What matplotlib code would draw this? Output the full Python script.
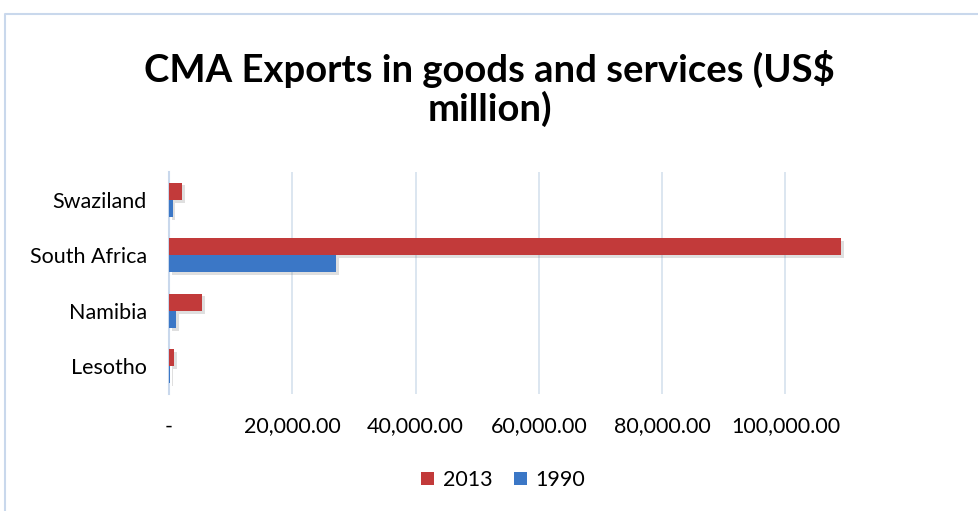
import matplotlib
matplotlib.use("Agg")
import matplotlib.pyplot as plt
import matplotlib.patheffects as pe
from matplotlib.patches import Patch
from matplotlib.lines import Line2D
from matplotlib.ticker import FuncFormatter

countries = ["Lesotho", "Namibia", "South Africa", "Swaziland"]
exports_2013 = [850, 5350, 109100, 2100]
exports_1990 = [120, 1100, 27100, 600]
xticks = [0, 20000, 40000, 60000, 80000, 100000]

plt.rcParams['font.family'] = ['Lato', 'DejaVu Sans']

red = '#C23A3A'
blue = '#3B77C6'

fig = plt.figure(figsize=(9.79, 5.11), dpi=100)
ax = fig.add_axes([169/979, 1-394/511, (847-169)/979, (394-172)/511])

h = 0.31
ypos = list(range(len(countries)))
shadow = [pe.SimplePatchShadow(offset=(2, -2), shadow_rgbFace='gray', alpha=0.25), pe.Normal()]
b1 = ax.barh([y + h/2 for y in ypos], exports_2013, height=h, color=red, zorder=3)
b2 = ax.barh([y - h/2 for y in ypos], exports_1990, height=h, color=blue, zorder=3)
for b in list(b1) + list(b2):
    b.set_path_effects(shadow)

ax.set_ylim(-0.5, 3.5)
ax.set_xlim(0, 110000)
ax.set_yticks(ypos)
ax.set_yticklabels(countries, fontsize=15.5)
ax.set_xticks(xticks)
ax.xaxis.set_major_formatter(FuncFormatter(lambda v, p: '-' if v == 0 else f"{v:,.2f}"))
ax.tick_params(axis='x', labelsize=15.5, length=0, pad=16)
ax.tick_params(axis='y', length=0, pad=16)
ax.grid(axis='x', color='#D5E1EE', linewidth=1.2, zorder=0)
for s in ['top', 'right', 'bottom']:
    ax.spines[s].set_visible(False)
ax.spines['left'].set_color('#C9D8EC')
ax.spines['left'].set_linewidth(1.5)

fig.text(0.5, 1-69/511, "CMA Exports in goods and services (US$", ha='center', va='center',
         fontsize=27.5, fontweight='bold')
fig.text(0.5, 1-109/511, "million)", ha='center', va='center', fontsize=27.5, fontweight='bold')

handles = [Patch(facecolor=red), Patch(facecolor=blue)]
fig.legend(handles, ["2013", "1990"], loc='center', bbox_to_anchor=(0.514, 1-480/511), ncol=2,
           frameon=False, fontsize=15.5, handlelength=0.6, handleheight=0.6, handletextpad=0.4,
           columnspacing=1.0)

fig.add_artist(Line2D([5/979, 5/979, 1.0], [0.0, 1-14/511, 1-14/511], transform=fig.transFigure,
                      color='#C9D8EC', linewidth=1.5))

fig.savefig("out.png", dpi=100)
